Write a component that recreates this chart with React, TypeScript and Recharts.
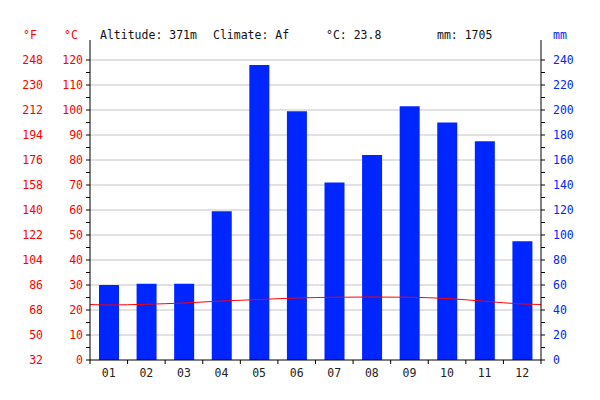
import { Bar, CartesianGrid, ComposedChart, Line, XAxis, YAxis } from "recharts";

const MONTHS = ["01", "02", "03", "04", "05", "06", "07", "08", "09", "10", "11", "12"];
const PRECIP_MM = [60, 61, 61, 119, 236, 199, 142, 164, 203, 190, 175, 95];
const TEMP_C = [22.0, 22.3, 22.8, 23.6, 24.2, 24.8, 25.1, 25.2, 25.1, 24.6, 23.5, 22.4];
// line runs on to the plot edges (year wraps Dec -> Jan)
const TEMP_EDGE_C = 22.2;

const C_TICKS = [0, 5, 10, 15, 20, 25, 30, 35, 40, 45, 50, 55, 60, 65, 70, 75, 80, 85, 90, 95, 100, 105, 110, 115, 120];
const F_TICKS = [0, 10, 20, 30, 40, 50, 60, 70, 80, 90, 100, 110, 120];
const MM_TICKS = [0, 10, 20, 30, 40, 50, 60, 70, 80, 90, 100, 110, 120, 130, 140, 150, 160, 170, 180, 190, 200, 210, 220, 230, 240];
const GRID_C = [10, 20, 30, 40, 50, 60, 70, 80, 90, 100, 110, 120];

const FONT = "'DejaVu Sans Mono', monospace";
const RED = "#ff0000";
const BLUE = "#0026ff";

const barData = MONTHS.map((m, i) => ({ month: m, mm: PRECIP_MM[i] }));
const lineData = [
  { x: 0, t: TEMP_EDGE_C },
  ...TEMP_C.map((t, i) => ({ x: i + 0.5, t })),
  { x: 12, t: TEMP_EDGE_C },
];

function MonthTick(props: any) {
  const { x, y, payload, index } = props;
  const half = payload.offset ?? 0;
  return (
    <g>
      <line x1={x - half} y1={y} x2={x - half} y2={y + 4} stroke="#000" />
      {index === MONTHS.length - 1 && (
        <line x1={x + half} y1={y} x2={x + half} y2={y + 4} stroke="#000" />
      )}
      <text x={x} y={y + 17} textAnchor="middle" fontSize={11.5} fontFamily={FONT} fill="#222">
        {payload.value}
      </text>
    </g>
  );
}

export default function App() {
  return (
    <div style={{ position: "absolute", left: 0, top: 0, width: 600, height: 400, background: "#fff" }}>
      <ComposedChart
        width={600}
        height={400}
        data={barData}
        margin={{ top: 40, right: 9, bottom: 10, left: 0 }}
        barCategoryGap={0}
      >
        <CartesianGrid
          xAxisId="cat"
          yAxisId="c"
          vertical={false}
          horizontalValues={GRID_C}
          stroke="#c4c4c4"
        />
        <XAxis
          xAxisId="cat"
          dataKey="month"
          height={30}
          interval={0}
          tickSize={0}
          tickMargin={0}
          tickLine={false}
          axisLine={{ stroke: "#000" }}
          tick={<MonthTick />}
        />
        <XAxis xAxisId="num" type="number" dataKey="x" domain={[0, 12]} allowDataOverflow hide />
        <YAxis
          yAxisId="c"
          orientation="left"
          width={45}
          domain={[0, 128]}
          allowDataOverflow
          ticks={C_TICKS}
          interval={0}
          tickSize={4}
          tickMargin={3}
          tickFormatter={(v: number) => (v % 10 === 0 ? String(v) : "")}
          tick={{ fill: RED, fontSize: 11.5, fontFamily: FONT }}
          tickLine={{ stroke: "#000" }}
          axisLine={{ stroke: "#000" }}
        />
        <YAxis
          yAxisId="f"
          orientation="left"
          width={45}
          domain={[0, 128]}
          allowDataOverflow
          ticks={F_TICKS}
          interval={0}
          tickSize={0}
          tickMargin={2}
          tickFormatter={(v: number) => String(Math.round(v * 1.8 + 32))}
          tick={{ fill: RED, fontSize: 11.5, fontFamily: FONT }}
          tickLine={false}
          axisLine={false}
        />
        <YAxis
          yAxisId="mm"
          orientation="right"
          width={50}
          domain={[0, 256]}
          allowDataOverflow
          ticks={MM_TICKS}
          interval={0}
          tickSize={4}
          tickMargin={8}
          tickFormatter={(v: number) => (v % 20 === 0 ? String(v) : "")}
          tick={{ fill: BLUE, fontSize: 11.5, fontFamily: FONT }}
          tickLine={{ stroke: "#000" }}
          axisLine={{ stroke: "#000" }}
        />
        <Bar xAxisId="cat" yAxisId="mm" dataKey="mm" fill={BLUE} barSize={20} isAnimationActive={false} />
        <Line
          xAxisId="num"
          yAxisId="c"
          data={lineData}
          dataKey="t"
          type="monotone"
          stroke={RED}
          strokeWidth={1}
          dot={false}
          activeDot={false}
          isAnimationActive={false}
        />
      </ComposedChart>
      <svg
        width={600}
        height={400}
        style={{ position: "absolute", left: 0, top: 0, pointerEvents: "none" }}
        fontFamily={FONT}
        fontSize={11.5}
      >
        <text x={23} y={39} fill={RED}>°F</text>
        <text x={64} y={39} fill={RED}>°C</text>
        <text x={100} y={39} fill="#111">Altitude: 371m</text>
        <text x={213} y={39} fill="#111">Climate: Af</text>
        <text x={326} y={39} fill="#111">°C: 23.8</text>
        <text x={437} y={39} fill="#111">mm: 1705</text>
        <text x={553} y={39} fill={BLUE}>mm</text>
      </svg>
    </div>
  );
}
